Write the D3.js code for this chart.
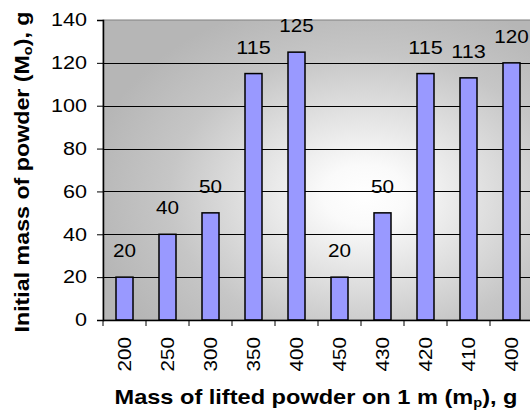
<!DOCTYPE html>
<html><head><meta charset="utf-8">
<script src="https://cdn.jsdelivr.net/npm/d3@7"></script>
<style>body{margin:0;background:#fff}svg{display:block;font-family:"Liberation Sans",Arial,sans-serif}</style>
</head><body><svg id="c" width="530" height="414"></svg>
<script>
const categories = ["200","250","300","350","400","450","430","420","410","400"];
const values = [20,40,50,115,125,20,50,115,113,120];
const yTicks = [0,20,40,60,80,100,120,140];

const svg = d3.select("#c");
const W = 530, H = 414;
const m = {l:103, t:20, r:-3, b:94};
const xb = d3.scaleBand().domain(d3.range(categories.length)).range([m.l, W - m.r]);
const y = d3.scaleLinear().domain([0,140]).range([H - m.b, m.t]);

const defs = svg.append("defs");
const g = defs.append("radialGradient").attr("id","bg").attr("gradientUnits","userSpaceOnUse")
  .attr("cx",365).attr("cy",195).attr("r",280)
  .attr("gradientTransform","translate(365,195) scale(1,0.72) translate(-365,-195)");
g.append("stop").attr("offset","0").attr("stop-color","#ffffff");
g.append("stop").attr("offset","0.15").attr("stop-color","#fafafa");
g.append("stop").attr("offset","0.7").attr("stop-color","#c6c6c6");
g.append("stop").attr("offset","1").attr("stop-color","#b6b6b6");

svg.append("rect").attr("x",m.l).attr("y",y(140)).attr("width",W-m.r-m.l).attr("height",y(0)-y(140))
  .attr("fill","url(#bg)").attr("stroke","#808080").attr("stroke-width",1);

// gridlines
svg.append("g").selectAll("line").data(yTicks.filter(d=>d>0 && d<140)).join("line")
  .attr("x1",m.l).attr("x2",W).attr("y1",d=>Math.round(y(d))+0.5).attr("y2",d=>Math.round(y(d))+0.5)
  .attr("stroke","#000").attr("stroke-width",1);

// bars
const bw = 17;
svg.append("g").selectAll("rect").data(values).join("rect")
  .attr("x",(d,i)=>xb(i)+xb.bandwidth()/2 - bw/2)
  .attr("y",d=>y(d))
  .attr("width",bw).attr("height",d=>y(0)-y(d))
  .attr("fill","#9999ff").attr("stroke","#000").attr("stroke-width",1.5);

// data labels
svg.append("g").selectAll("text").data(values).join("text")
  .attr("x",(d,i)=>xb(i)+xb.bandwidth()/2)
  .attr("y",d=>y(d)-20)
  .attr("text-anchor","middle").attr("font-size",18).attr("fill","#000")
  .attr("textLength",d=>String(d).length*11.5).attr("lengthAdjust","spacingAndGlyphs")
  .text(d=>d);

// y axis
const ya = svg.append("g").attr("transform",`translate(${m.l},0)`)
  .call(d3.axisLeft(y).tickValues(yTicks).tickSize(6).tickPadding(10));
ya.select(".domain").attr("stroke","#000").attr("stroke-width",1.5);
ya.selectAll(".tick line").attr("stroke","#000");
ya.selectAll(".tick text").attr("font-size",18).attr("font-family","Liberation Sans, Arial, sans-serif").attr("fill","#000")
  .attr("textLength",d=>String(d).length*12).attr("lengthAdjust","spacingAndGlyphs");

// x axis
const xa = svg.append("g").attr("transform",`translate(0,${y(0)})`);
xa.append("line").attr("x1",m.l).attr("x2",W).attr("y1",0.5).attr("y2",0.5).attr("stroke","#000").attr("stroke-width",1.5);
xa.selectAll("line.tk").data(d3.range(categories.length+1)).join("line").attr("class","tk")
  .attr("x1",i=>m.l + i*xb.step()).attr("x2",i=>m.l + i*xb.step()).attr("y1",0).attr("y2",6)
  .attr("stroke","#000");
xa.selectAll("text").data(categories).join("text")
  .attr("transform",(d,i)=>`translate(${xb(i)+xb.bandwidth()/2+6.5},17) rotate(-90)`)
  .attr("text-anchor","end").attr("font-size",18).attr("fill","#000")
  .attr("textLength",d=>d.length*11.5).attr("lengthAdjust","spacingAndGlyphs")
  .text(d=>d);

// titles
svg.append("text").attr("x",316).attr("y",404).attr("text-anchor","middle")
  .attr("font-size",21).attr("font-weight","bold")
  .attr("textLength",403).attr("lengthAdjust","spacingAndGlyphs")
  .html('Mass of lifted powder on 1 m (m<tspan dy="3" font-size="13">p</tspan><tspan dy="-3">), g</tspan>');
svg.append("text").attr("transform","translate(29,172) rotate(-90)").attr("text-anchor","middle")
  .attr("font-size",21).attr("font-weight","bold")
  .attr("textLength",321).attr("lengthAdjust","spacingAndGlyphs")
  .html('Initial mass of powder (M<tspan dy="3" font-size="13">o</tspan><tspan dy="-3">), g</tspan>');
</script></body></html>
